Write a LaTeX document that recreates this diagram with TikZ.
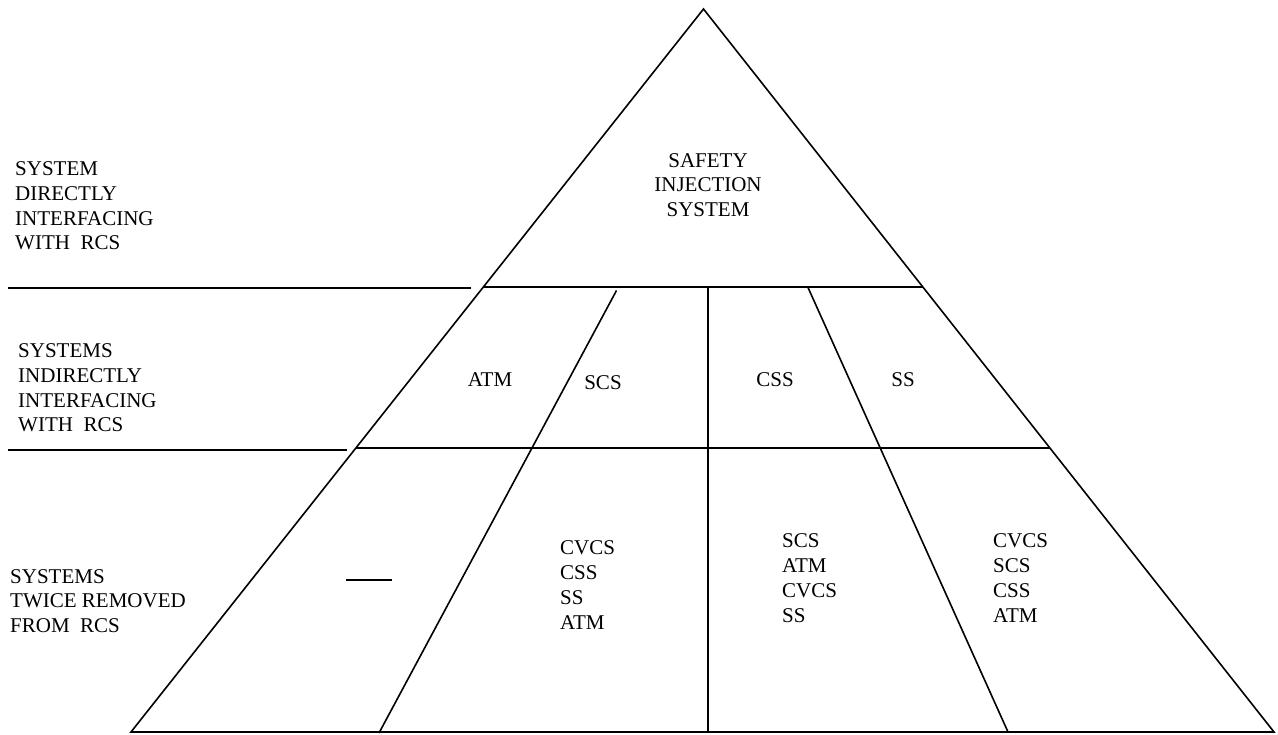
\documentclass[tikz,border=0pt]{standalone}
\usepackage{fontspec}
\setmainfont{Liberation Serif}
\usetikzlibrary{calc}
\begin{document}
\begin{tikzpicture}[x=1pt,y=-1pt,
  rule/.style={line width=1.6pt,black},
  lbl/.style={inner sep=0pt,align=left,font=\fontsize{21}{24.8}\selectfont},
  cell/.style={inner sep=0pt,font=\fontsize{21}{24.8}\selectfont}]
\useasboundingbox (0,0) rectangle (1278,735);
% outline of the pyramid
\coordinate (apex) at (703.5,9);
\coordinate (bl) at (131,732);
\coordinate (br) at (1274,732);
\draw[rule,line join=miter] (bl) -- (apex) -- (br) -- cycle;
% tier boundaries inside the pyramid
\coordinate (r1l) at ($(apex)!0.3845!(bl)$);
\coordinate (r1r) at ($(apex)!0.3845!(br)$);
\coordinate (r2l) at ($(apex)!0.6072!(bl)$);
\coordinate (r2r) at ($(apex)!0.6072!(br)$);
\draw[rule] (r1l) -- (r1r);
\draw[rule] (r2l) -- (r2r);
% separators under the side labels
\coordinate (s1a) at (8,288);  \coordinate (s1b) at (470.5,288);
\coordinate (s2a) at (8,450);  \coordinate (s2b) at (346.5,450);
\draw[rule] (s1a) -- (s1b);
\draw[rule] (s2a) -- (s2b);
% column dividers
\coordinate (v1) at (708,287.5); \coordinate (v2) at (708,732);
\coordinate (d1a) at (616.5,290.5); \coordinate (d1b) at (379,733);
\coordinate (d2a) at (808,287.5);   \coordinate (d2b) at (1008,732);
\draw[rule] (v1) -- (v2);
\draw[rule] (d1a) -- (d1b);
\draw[rule] (d2a) -- (d2b);
% empty cell marker
\coordinate (m1) at (346,580); \coordinate (m2) at (392,580);
\draw[rule] (m1) -- (m2);
% side labels
\node[lbl,anchor=west] (t1) at (15,206) {SYSTEM\\DIRECTLY\\INTERFACING\\WITH\ \ RCS};
\node[lbl,anchor=west] (t2) at (18,388) {SYSTEMS\\INDIRECTLY\\INTERFACING\\WITH\ \ RCS};
\node[lbl,anchor=west] (t3) at (10,601) {SYSTEMS\\TWICE REMOVED\\FROM\ \ RCS};
% cell contents
\node[lbl,align=center] (top) at (708,185) {SAFETY\\INJECTION\\SYSTEM};
\node[cell] (c1) at (490,380) {ATM};
\node[cell] (c2) at (603,383) {SCS};
\node[cell] (c3) at (775,380) {CSS};
\node[cell] (c4) at (903,380) {SS};
\node[lbl,anchor=west] (b1) at (560,585) {CVCS\\CSS\\SS\\ATM};
\node[lbl,anchor=west] (b2) at (782,578) {SCS\\ATM\\CVCS\\SS};
\node[lbl,anchor=west] (b3) at (993,578) {CVCS\\SCS\\CSS\\ATM};
\end{tikzpicture}
\end{document}
